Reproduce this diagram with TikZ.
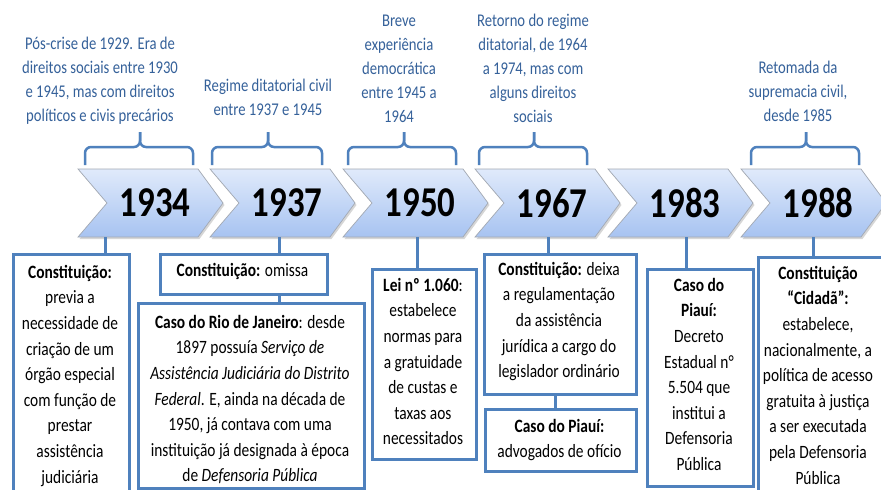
\documentclass[tikz,border=0pt]{standalone}
\usepackage{fontspec}
\setmainfont{Carlito}[FakeStretch=0.82]
\usetikzlibrary{calc}
\definecolor{accent}{HTML}{4F81BD}
\definecolor{toptext}{HTML}{35619A}
\definecolor{chevtop}{HTML}{E0EAFB}
\definecolor{chevbot}{HTML}{A7C3F1}
\definecolor{chevedge}{HTML}{A3A9B3}
\tikzset{
  year/.style={font=\fontsize{42.5}{42.5}\selectfont\bfseries, inner sep=0, text=black},
  bracest/.style={draw=accent, line width=2.5, rounded corners=6},
  boxst/.style={draw=accent, line width=3, fill=white, inner sep=0, anchor=north west},
  conn/.style={draw=accent, line width=3},
  txt/.style={font=\fontsize{18.8}{25.6}\selectfont, align=center, inner sep=0, anchor=north, text=black},
  toptxt/.style={font=\fontsize{17.9}{24}\selectfont, align=center, inner sep=0, anchor=north, text=toptext},
}
\newcommand\mychevron[3]{%
  \fill[black, opacity=0.16] ({#1+1.5},171) -- ({#1+121.5},171) -- ({#1+146.5},205) -- ({#1+121.5},239) -- ({#1+1.5},239) -- ({#1+30.5},205) -- cycle;
  \draw[chevedge, line width=0.7, top color=chevtop, bottom color=chevbot] (#1,169) -- ({#1+120},169) -- ({#1+145},203) -- ({#1+120},237) -- (#1,237) -- ({#1+29},203) -- cycle;
  \node[year] (#2) at ({#1+77},203) {#3};
}
\newcommand\mybrace[3]{%
  \draw[bracest] (#1,165) |- (#3,147) -- (#3,132);
  \draw[bracest] (#2,165) |- (#3,147) -- (#3,132);
}
\begin{document}
\begin{tikzpicture}[x=1pt,y=-1pt]
\clip (0,0) rectangle (881,490);
\fill[white] (0,0) rectangle (881,490);

% top texts
\node[toptxt] (n1) at (100,32.2) {\strut Pós-crise de 1929. Era de\\direitos sociais entre 1930\\e 1945, mas com direitos\\políticos e civis precários};
\node[toptxt] (n2) at (268,74.2) {\strut Regime ditatorial civil\\entre 1937 e 1945};
\node[toptxt] (n3) at (399,9.2) {\strut Breve\\experiência\\democrática\\entre 1945 a\\1964};
\node[toptxt] (n4) at (533,9.2) {\strut Retorno do regime\\ditatorial, de 1964\\a 1974, mas com\\alguns direitos\\sociais};
\node[toptxt] (n5) at (798,56.2) {\strut Retomada da\\supremacia civil,\\desde 1985};

% braces
\mybrace{85}{193}{140}
\mybrace{212}{322}{268}
\mybrace{348}{456}{404}
\mybrace{479}{587}{534}
\mybrace{751}{859}{806}

% chevrons
\mychevron{78}{y1}{1934}
\mychevron{210}{y2}{1937}
\mychevron{343}{y3}{1950}
\mychevron{475}{y4}{1967}
\mychevron{608}{y5}{1983}
\mychevron{741}{y6}{1988}

% connector anchors on chevron bottoms
\coordinate (k1) at (105,237);
\coordinate (k2) at (279,237);
\coordinate (k3) at (417,237);
\coordinate (k4) at (548,237);
\coordinate (k5) at (686,237);
\coordinate (k6) at (813,237);

% boxes
\node[boxst, minimum width=116, minimum height=260] (b1) at (12,253) {};
\node[boxst, minimum width=167, minimum height=40] (b2) at (159,253) {};
\node[boxst, minimum width=226, minimum height=185] (b3) at (137,302) {};
\node[boxst, minimum width=104, minimum height=190] (b4) at (371,268) {};
\node[boxst, minimum width=152, minimum height=140] (b5) at (483,253) {};
\node[boxst, minimum width=151, minimum height=62] (b6) at (484,408) {};
\node[boxst, minimum width=106, minimum height=217] (b7) at (646,268) {};
\node[boxst, minimum width=126, minimum height=250] (b8) at (757,256) {};

% connectors
\draw[conn] (k1) -- (k1 |- b1.north);
\draw[conn] (k2) -- (k2 |- b2.north);
\draw[conn] (k2 |- b2.south) -- (k2 |- b3.north);
\draw[conn] (k3) -- (k3 |- b4.north);
\draw[conn] (k4) -- (k4 |- b5.north);
\coordinate (k4b) at (555,393);
\draw[conn] (k4b |- b5.south) -- (k4b |- b6.north);
\draw[conn] (k5) -- (k5 |- b7.north);
\draw[conn] (k6) -- (k6 |- b8.north);

% box texts
\node[txt] (t1) at (70,260.1) {\strut\textbf{Constituição:}\\previa a\\necessidade de\\criação de um\\órgão especial\\com função de\\prestar\\assistência\\judiciária};
\node[txt] (t2) at (242.5,258.1) {\strut\textbf{Constituição:} omissa};
\node[txt] (t3) at (250,310.1) {\strut\textbf{Caso do Rio de Janeiro}: desde\\1897 possuía \textit{Serviço de}\\\textit{Assistência Judiciária do Distrito}\\\textit{Federal}. E, ainda na década de\\1950, já contava com uma\\instituição já designada à época\\de \textit{Defensoria Pública}};
\node[txt] (t4) at (423,273.1) {\strut\textbf{Lei nº 1.060}:\\estabelece\\normas para\\a gratuidade\\de custas e\\taxas aos\\necessitados};
\node[txt] (t5) at (559,257.1) {\strut\textbf{Constituição:} deixa\\a regulamentação\\da assistência\\jurídica a cargo do\\legislador ordinário};
\node[txt] (t6) at (559.5,414.1) {\strut\textbf{Caso do Piauí:}\\advogados de ofício};
\node[txt] (t7) at (699,273.1) {\strut\textbf{Caso do}\\\textbf{Piauí:}\\Decreto\\Estadual n°\\5.504 que\\institui a\\Defensoria\\Pública};
\node[txt] (t8) at (818,261.1) {\strut\textbf{Constituição}\\\textbf{“Cidadã”:}\\estabelece,\\nacionalmente, a\\política de acesso\\gratuita à justiça\\a ser executada\\pela Defensoria\\Pública};
\end{tikzpicture}
\end{document}
